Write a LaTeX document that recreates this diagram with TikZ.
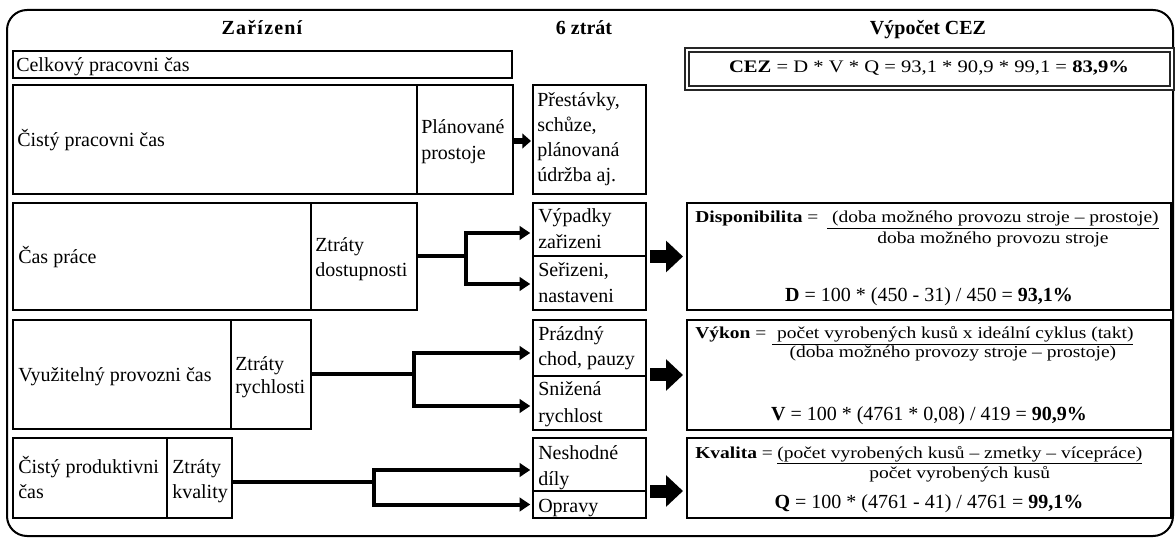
\documentclass[tikz,border=0pt]{standalone}
\usepackage{fontspec}
\setmainfont{Liberation Serif}
\newfontfamily\ffs[FakeStretch=1.17]{Liberation Serif}
\newfontfamily\hsp[LetterSpace=6]{Liberation Serif}
\usetikzlibrary{arrows.meta,calc}
\newcommand\mkbox[6][]{\node[boxst,#1,minimum width={(#4-#2)*0.75pt},minimum height={(#5-#3)*0.75pt}] (#6) at (#2,#3) {};}
\begin{document}
\begin{tikzpicture}[x=0.75pt,y=-0.75pt,
  boxst/.style={draw,line width=1.5pt,inner sep=0pt,outer sep=0pt,anchor=north west},
  txt/.style={anchor=base west,inner sep=0pt,font=\fontsize{15}{18}\selectfont},
  hdr/.style={anchor=base,inner sep=0pt,font=\fontsize{15}{18}\selectfont\bfseries},
  frm/.style={anchor=base west,inner sep=0pt,font=\fontsize{12.5}{15}\selectfont\ffs},
  res/.style={anchor=base,inner sep=0pt,font=\fontsize{15}{18}\selectfont},
  conn/.style={line width=3pt},
  arr/.style={line width=3pt,-{Triangle[length=8pt,width=10pt]},shorten >=2pt},
  smallarr/.style={line width=4.5pt,-{Triangle[length=6.5pt,width=11pt]},shorten <=0.5pt,shorten >=1.5pt},
  blockarr/.style={line width=9.75pt,-{Triangle[length=12.75pt,width=23pt]},shorten <=3pt,shorten >=3pt},
]
\useasboundingbox (0,0) rectangle (1175,538);
\draw[line width=1.5pt,rounded corners=15pt] (7,10) rectangle (1173,536);

% headers
\node[hdr] (h1) at (262,35) {\hsp\bfseries Zařízení};
\node[hdr] (h2) at (584,35) {6 ztrát};
\node[hdr] (h3) at (928,35) {Výpočet CEZ};

% row 1
\mkbox{13}{51}{512}{78}{celk}
\node[txt] (tcelk) at (16,72) {Celkový pracovni čas};
\mkbox[double,double distance=2pt,line width=0.9pt,draw=black!85]{687}{50}{1172}{88}{cez}
\node[anchor=base,inner sep=0pt,font=\fontsize{13.2}{15}\selectfont\ffs] (tcez) at (929,73) {\textbf{CEZ} = D * V * Q = 93,1 * 90,9 * 99,1 = \textbf{83,9\%}};

% row 2
\mkbox{13}{85}{417}{194}{cp}
\mkbox{417}{85}{513}{194}{pp}
\mkbox{533}{85}{646}{194}{pr}
\node[txt] (tcp) at (17,147) {Čistý pracovni čas};
\node[txt] (tpp1) at (421,134) {Plánované};
\node[txt] (tpp2) at (421,160) {prostoje};
\node[txt] (tpr1) at (537,107) {Přestávky,};
\node[txt] (tpr2) at (537,132) {schůze,};
\node[txt] (tpr3) at (537,157) {plánovaná};
\node[txt] (tpr4) at (537,182) {údržba aj.};
\draw[smallarr] ($(pp.east)+(0,1.5)$) -- ($(pr.west)+(0,1.5)$);

% row 3
\mkbox{13}{203}{311}{310}{cpr}
\mkbox{311}{203}{417}{310}{z3}
\mkbox{533}{203}{646}{256}{l3a}
\mkbox{533}{256}{646}{310}{l3b}
\mkbox{687}{203}{1171}{310}{f3}
\node[txt] (tcpr) at (18,264) {Čas práce};
\node[txt] (tz3a) at (315,252) {Ztráty};
\node[txt] (tz3b) at (315,277) {dostupnosti};
\node[txt] (tl3a) at (538,223) {Výpadky};
\node[txt] (tl3b) at (538,249) {zařizeni};
\node[txt] (tl3c) at (538,277) {Seřizeni,};
\node[txt] (tl3d) at (538,303) {nastaveni};
\coordinate (b3) at ($(z3.east)+(49,0)$);
\draw[conn] (z3.east) -- (b3);
\draw[arr] (b3) |- ($(l3a.west)+(0,3.5)$);
\draw[arr] (b3) |- ($(l3b.west)+(0,1)$);
\draw[blockarr] (l3a.east |- f3.west) -- (f3.west);
\node[frm] (f3l) at (695,223) {\textbf{Disponibilita} =};
\node[frm] (f3n) at (827,223) {\underline{\ (doba možného provozu stroje – prostoje)}};
\node[frm,anchor=base] (f3d) at ($(f3n.base)+(0,21)$) {doba možného provozu stroje};
\node[res] (f3r) at (929,302) {\textbf{D} = 100 * (450 - 31) / 450 = \textbf{93,1\%}};

% row 4
\mkbox{13}{320}{231}{429}{vp}
\mkbox{231}{320}{311}{429}{z4}
\mkbox{533}{320}{646}{376}{l4a}
\mkbox{533}{376}{646}{430}{l4b}
\mkbox{687}{320}{1171}{430}{f4}
\node[txt] (tvp) at (18,382) {Využitelný provozni čas};
\node[txt] (tz4a) at (235,370) {Ztráty};
\node[txt] (tz4b) at (235,393) {rychlosti};
\node[txt] (tl4a) at (538,341) {Prázdný};
\node[txt] (tl4b) at (538,366) {chod, pauzy};
\node[txt] (tl4c) at (538,396) {Snižená};
\node[txt] (tl4d) at (538,422) {rychlost};
\coordinate (b4) at ($(z4.east)+(103,0)$);
\draw[conn] (z4.east) -- (b4);
\draw[arr] (b4) |- ($(l4a.west)+(0,5)$);
\draw[arr] (b4) |- ($(l4b.west)+(0,3)$);
\draw[blockarr] (l4a.east |- f4.west) -- (f4.west);
\node[frm] (f4l) at (695,339) {\textbf{Výkon} =};
\node[frm] (f4n) at (772,339) {\underline{\ počet vyrobených kusů x ideální cyklus (takt)}};
\node[frm,anchor=base] (f4d) at ($(f4n.base)+(0,19)$) {(doba možného provozy stroje – prostoje)};
\node[res] (f4r) at (929,421) {\textbf{V} = 100 * (4761 * 0,08) / 419 = \textbf{90,9\%}};

% row 5
\mkbox{13}{438}{167}{518}{cpc}
\mkbox{167}{438}{232}{518}{z5}
\mkbox{533}{438}{646}{491}{l5a}
\mkbox{533}{491}{646}{518}{l5b}
\mkbox{687}{438}{1171}{518}{f5}
\node[txt] (tcpc1) at (18,473) {Čistý produktivni};
\node[txt] (tcpc2) at (18,498) {čas};
\node[txt] (tz5a) at (172,473) {Ztráty};
\node[txt] (tz5b) at (172,498) {kvality};
\node[txt] (tl5a) at (538,459) {Neshodné};
\node[txt] (tl5b) at (538,485) {díly};
\node[txt] (tl5c) at (538,512) {Opravy};
\coordinate (b5) at ($(z5.east)+(142,4)$);
\draw[conn] ($(z5.east)+(0,4)$) -- (b5);
\draw[arr] (b5) |- ($(l5a.west)+(0,5.5)$);
\draw[arr] (b5) |- (l5b.west);
\draw[blockarr] ($(l5a.east |- f5.west)+(0,13)$) -- ($(f5.west)+(0,13)$);
\node[frm] (f5l) at (695,458) {\textbf{Kvalita} =};
\node[frm] (f5n) at (777,458) {\underline{(počet vyrobených kusů – zmetky – vícepráce)}};
\node[frm,anchor=base] (f5d) at ($(f5n.base)+(0,20)$) {počet vyrobených kusů};
\node[res] (f5r) at (929,508) {\textbf{Q} = 100 * (4761 - 41) / 4761 = \textbf{99,1\%}};
\end{tikzpicture}
\end{document}
